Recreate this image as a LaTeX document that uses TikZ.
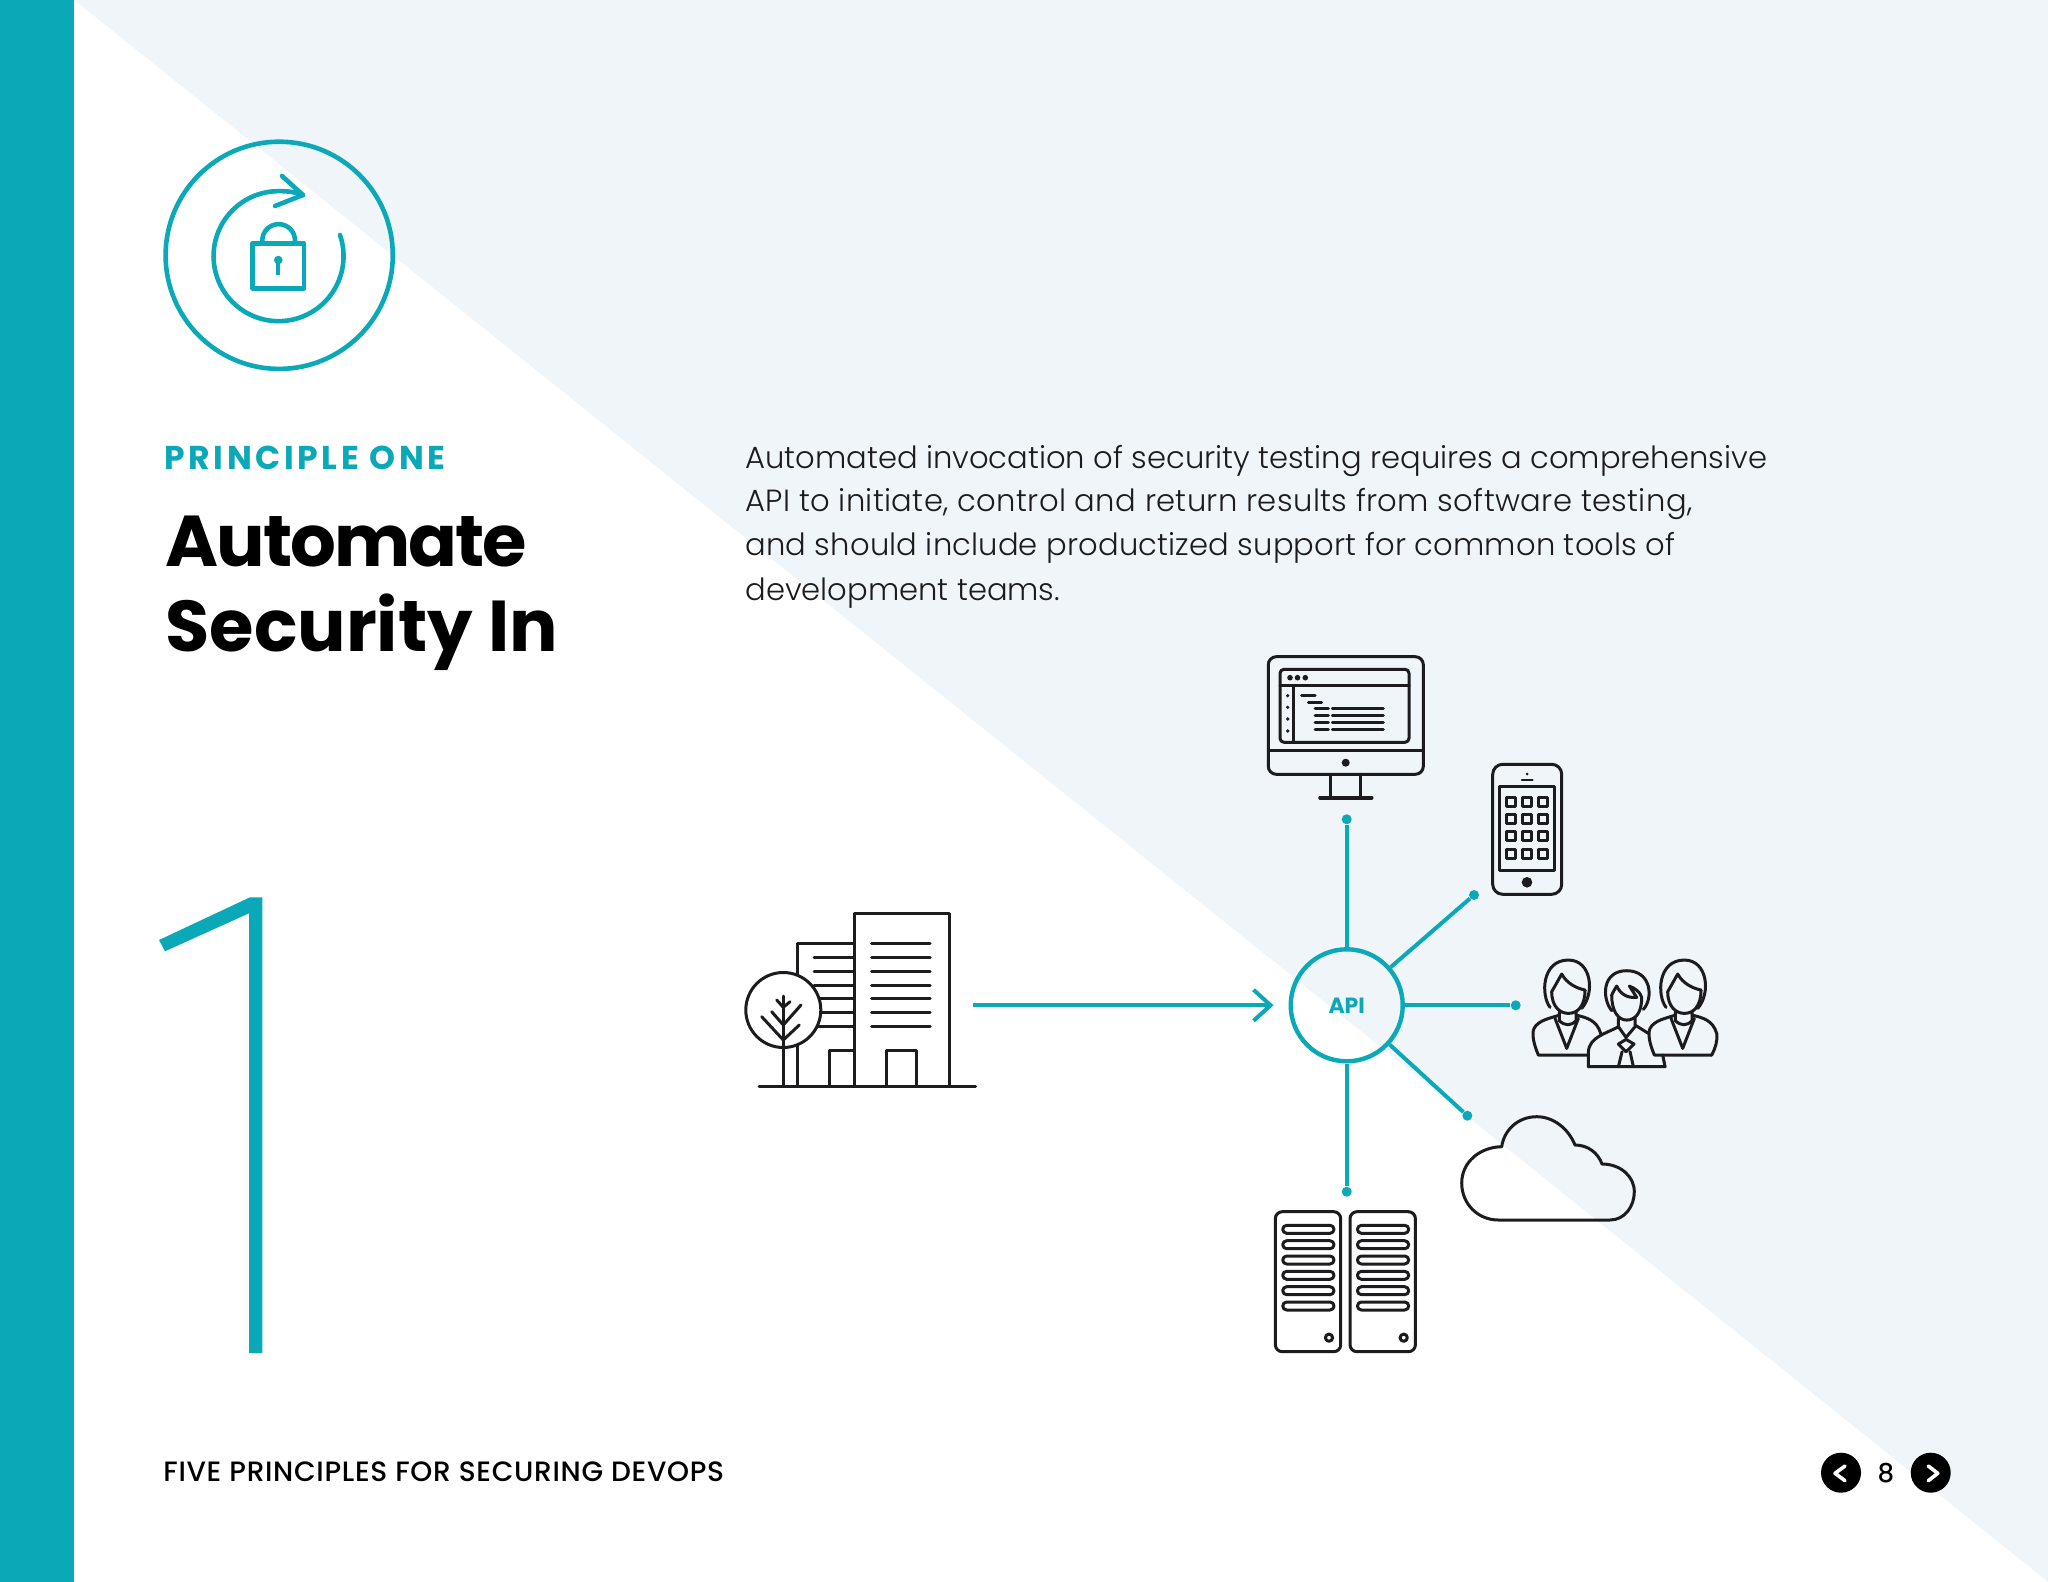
\documentclass[tikz,border=0pt]{standalone}
\usepackage{fontspec}
\usepackage{xcolor}
\usepackage{tikz}
\usetikzlibrary{arrows.meta,positioning,calc}
\setmainfont{Poppins}
\newfontfamily\lightfont{Poppins Light}
\newfontfamily\mediumfont[LetterSpace=2.5]{Poppins Medium}
\newfontfamily\kickerfont[LetterSpace=11]{Poppins Bold}
\newfontfamily\tighttitle[LetterSpace=-2.7]{Poppins Bold}
\definecolor{brandteal}{RGB}{11,169,184}
\definecolor{palesky}{RGB}{239,245,248}
\definecolor{inkblack}{RGB}{28,28,30}

\newcommand{\drawwoman}[2]{%
    \begin{scope}[shift={(#1,750)}, x=0.1667pt, y=-0.1667pt]
        \draw[iconline] (240,772) .. controls (212,735) and (215,630) .. (295,630) .. controls (365,630) and (375,730) .. (335,775);
        \draw[iconline] (245,725) -- (275,672) .. controls (290,700) and (320,715) .. (345,720);
        \draw[iconline] (245,725) .. controls (245,770) and (270,790) .. (295,790) .. controls (325,790) and (345,765) .. (345,720);
        \draw[iconline] (268,785) -- (268,812) .. controls (285,828) and (302,828) .. (318,812) -- (318,785);
        \draw[iconline] (255,805) -- (290,895) -- (325,805);
        \draw[iconline] (#2,915) -- (205,915) .. controls (190,880) and (185,850) .. (192,835) .. controls (205,810) and (240,805) .. (268,795);
        \draw[iconline] (318,795) .. controls (350,803) and (380,810) .. (392,850);
    \end{scope}}
\newcommand{\drawserver}[1]{%
    \draw[iconline, rounded corners=3.5pt] (#1,1211.7) rectangle ++(65.4,140);
    \foreach \slotY in {1229.3,1244.7,1260,1275.3,1290.7,1306}
        \draw[iconline, rounded corners=2pt] ($(#1,\slotY)+(7.4,-4)$) rectangle ++(51.3,8);
    \draw[iconline] ($(#1,1337.7)+(53.7,0)$) circle[radius=3.6];}

\tikzset{
    iconline/.style={draw=inkblack, line width=1.5pt, line cap=round, line join=round},
    brandline/.style={draw=brandteal, line width=2.3pt, line cap=round, line join=round},
    spoke/.style={draw=brandteal, line width=2pt},
    inflow/.style={draw=brandteal, line width=2pt, -{Straight Barb[length=8.5pt,width=15.5pt,line width=2pt]}, shorten >=7.5pt},
    spokedot/.style={circle, fill=brandteal, inner sep=0pt, minimum size=5pt},
    apihub/.style={circle, draw=brandteal, line width=2.2pt, minimum size=56pt, inner sep=0pt, text=brandteal, font=\fontsize{11}{12}\selectfont\bfseries},
    navdot/.style={circle, fill=black, minimum size=20pt, inner sep=0pt}
}

\begin{document}
\begin{tikzpicture}[x=0.5pt, y=-0.5pt]
    \useasboundingbox (0,0) rectangle (2048,1582);
    % page ground
    \fill[palesky] (0,0) rectangle (2048,1582);
    \fill[white] (74,0) -- (2048,1582) -- (74,1582) -- cycle;
    \fill[brandteal] (0,0) rectangle (74,1582);

    % badge
    \draw[brandline] (279.2,255.3) circle[radius=113.6];
    \draw[brandline] (340,235) arc[start angle=-19, end angle=270, radius=65] .. controls (287,191) and (295,192) .. (303,195);
    \draw[brandline] (282,176) -- (303,195) -- (275,206);
    \draw[brandline] (252.7,243.3) rectangle (304,288.3);
    \draw[brandline] (262.3,243.3) -- (262.3,240.5) arc[start angle=180, end angle=360, radius=16.35] -- (295,243.3);
    \fill[brandteal] (278.3,260) circle[radius=4.3];
    \fill[brandteal] (276.2,260) rectangle (280.4,275);

    % big numeral
    \fill[brandteal] (250,897.3) -- (159,940) -- (165,951.3) -- (249,913.3) -- (249,1353) -- (262.3,1353) -- (262.3,897.3) -- cycle;

    % headings
    \node[anchor=base west, inner sep=0pt, text=brandteal, font=\fontsize{16.5}{16.5}\selectfont\kickerfont] (kicker) at (164,470) {PRINCIPLE ONE};
    \node[anchor=base west, inner sep=0pt, text=black, font=\fontsize{36}{36}\selectfont\tighttitle] (titleone) at (165,566.7) {Automate};
    \node[anchor=base west, inner sep=0pt, text=black, font=\fontsize{36}{36}\selectfont\bfseries] (titletwo) at (165,651.7) {Security In};
    \node[anchor=base west, inner sep=0pt, align=left, text=inkblack, font=\fontsize{15.3}{22}\selectfont\lightfont] (bodytext) at (745,600) {Automated invocation of security testing requires a comprehensive\\{\addfontfeature{LetterSpace=1.2}API to initiate, control and return results from software testing,}\\{\addfontfeature{LetterSpace=0.5}and should include productized support for common tools of}\\development teams.};

    % footer
    \node[anchor=base west, inner sep=0pt, text=black, font=\fontsize{14}{14}\selectfont\mediumfont] (footer) at (163,1481) {FIVE PRINCIPLES FOR SECURING DEVOPS};
    \node[navdot] (navback) at (1841,1472.7) {};
    \node[navdot] (navnext) at (1930.7,1472.7) {};
    \node[inner sep=0pt, text=black, font=\fontsize{13}{13}\selectfont\mediumfont] (pagenum) at (1886,1472.7) {8};
    \draw[white, line width=1.8pt, line cap=round, line join=round] (1845,1466) -- (1835,1473.3) -- (1845,1480.7);
    \draw[white, line width=1.8pt, line cap=round, line join=round] (1928.3,1466) -- (1937.7,1473.3) -- (1928.3,1480.7);

    % hub and spokes
    \node[apihub] (api) at (1346.7,1005.3) {API};
    \node[spokedot] (dotmonitor) at (1346.7,819.3) {};
    \node[spokedot] (dotphone) at (1474,895) {};
    \node[spokedot] (dotpeople) at (1515.7,1005.3) {};
    \node[spokedot] (dotcloud) at (1467.3,1115.7) {};
    \node[spokedot] (dotserver) at (1346.7,1191.7) {};
    \coordinate (orgout) at (973.3,1005.3);
    \draw[spoke] (api) -- (dotmonitor);
    \draw[spoke] (api) -- (dotphone);
    \draw[spoke] (api) -- (dotpeople);
    \draw[spoke] (api) -- (dotcloud);
    \draw[spoke] (api) -- (dotserver);
    \draw[inflow] (orgout) -- (api);

    % organisation
    \draw[iconline] (759,1086) -- (975.7,1086);
    \draw[iconline] (854.3,1086) -- (854.3,913.7) -- (949,913.7) -- (949,1086);
    \foreach \rowY in {943.7,957.3,971,985,998.7,1012.3,1026}
        \draw[iconline] (871.7,\rowY) -- (930,\rowY);
    \draw[iconline] (886,1086) -- (886,1050) -- (916.7,1050) -- (916.7,1086);
    \draw[iconline] (797,1086) -- (797,943.3) -- (854.3,943.3);
    \foreach \rowY in {957.3,971,985,998.7,1012.3,1026}
        \draw[iconline] (814,\rowY) -- (854.3,\rowY);
    \draw[iconline] (829.3,1086) -- (829.3,1050) -- (854.3,1050);
    \draw[iconline, fill=white] (783.3,1010) circle[radius=37.5];
    \draw[iconline] (783.3,996) -- (783.3,1086);
    \draw[iconline] (761.7,1016.7) -- (783.3,1040) -- (799.3,1025);
    \draw[iconline] (771.7,1011.7) -- (783.3,1025) -- (801,1005);
    \draw[iconline] (776.7,1000) -- (783.3,1007.3) -- (790,1001.7);

    % monitor
    \draw[iconline, rounded corners=4pt] (1268.3,656.7) rectangle (1423.3,774.3);
    \draw[iconline] (1268.3,750) -- (1423.3,750);
    \draw[iconline, rounded corners=2pt] (1280,669.3) rectangle (1409,742.3);
    \draw[iconline] (1280,685.7) -- (1409,685.7);
    \draw[iconline] (1293.3,685.7) -- (1293.3,742.3);
    \foreach \dotX in {1290,1297.5,1305.3}
        \fill[inkblack] (\dotX,677.7) circle[radius=2.8];
    \foreach \dotY in {695.7,707.3,719,731}
        \fill[inkblack] (1287.7,\dotY) circle[radius=1.8];
    \draw[iconline] (1301.7,695) -- (1315,695);
    \draw[iconline] (1308.3,702) -- (1321.7,702);
    \foreach \rowY in {708.7,715.7,722.7,729.3}{
        \draw[iconline] (1315,\rowY) -- (1328.3,\rowY);
        \draw[iconline] (1332.3,\rowY) -- (1383.3,\rowY);
    }
    \fill[inkblack] (1345.7,762.7) circle[radius=4];
    \draw[iconline] (1330.7,774.3) -- (1330.7,797.7);
    \draw[iconline] (1360,774.3) -- (1360,797.7);
    \draw[iconline, line width=1.8pt] (1320,797.7) -- (1371.7,797.7);

    % phone
    \draw[iconline, rounded corners=5pt] (1492.7,764.3) rectangle (1561.7,894.3);
    \fill[inkblack] (1527,774) circle[radius=1.5];
    \draw[iconline, line width=0.9pt] (1521.7,780) -- (1532.7,780);
    \draw[iconline] (1499.3,786) rectangle (1554.7,870.7);
    \fill[inkblack] (1527,882.3) circle[radius=5.3];
    \foreach \keyX in {1511.3,1527,1543}
        \foreach \keyY in {801.7,819,836.3,853.7}
            \draw[iconline] ($(\keyX,\keyY)+(-4.5,-4.5)$) rectangle ++(9,9);

    % people
    \drawwoman{1470}{355}
    \drawwoman{1586}{377}
    \begin{scope}[shift={(1470,750)}, x=0.1667pt, y=-0.1667pt]
        \draw[iconline] (740,850) .. controls (743,875) and (735,895) .. (725,915);
        \draw[iconline] (425,782) .. controls (395,745) and (395,662) .. (470,662) .. controls (545,662) and (550,745) .. (520,778);
        \draw[iconline] (425,735) .. controls (430,725) and (435,715) .. (440,708) .. controls (450,730) and (470,745) .. (500,742) -- (478,708) .. controls (495,715) and (510,725) .. (515,742);
        \draw[iconline] (425,735) .. controls (425,785) and (445,810) .. (470,810) .. controls (495,810) and (515,790) .. (515,742);
        \draw[iconline] (445,805) -- (445,830) -- (468,862) -- (495,830) -- (495,805);
        \draw[iconline] (355,950) -- (355,905) .. controls (358,860) and (410,850) .. (445,830);
        \draw[iconline] (495,825) -- (535,850);
        \draw[iconline] (355,950) -- (585,950) -- (578,915);
        \draw[iconline] (468,868) -- (445,882) -- (468,905) -- (492,882) -- cycle;
        \draw[iconline] (456,905) -- (445,950);
        \draw[iconline] (480,905) -- (490,950);
    \end{scope}

    % cloud
    \draw[iconline] (1498.3,1220) -- (1610,1220) .. controls (1625,1220) and (1634.3,1206) .. (1634.3,1191.7) .. controls (1634.3,1176) and (1620,1164) .. (1602,1164) .. controls (1598,1153) and (1588,1145) .. (1575,1145) .. controls (1568,1128) and (1553,1116.7) .. (1536.7,1116.7) .. controls (1518,1116.7) and (1504,1130) .. (1501.7,1146.7) .. controls (1480,1147) and (1461.7,1162) .. (1461.7,1183) .. controls (1461.7,1204) and (1478,1220) .. (1498.3,1220) -- cycle;

    % servers
    \drawserver{1275.3}
    \drawserver{1350}
\end{tikzpicture}
\end{document}
